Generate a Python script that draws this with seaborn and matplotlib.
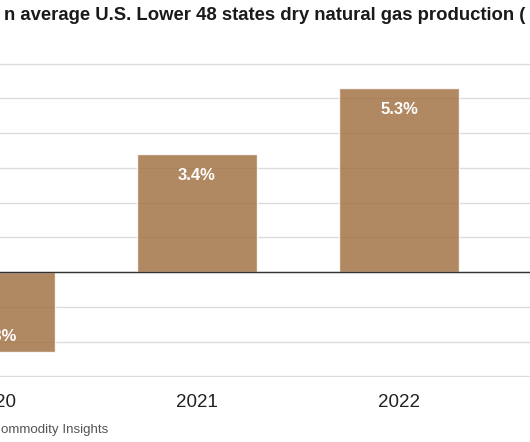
import matplotlib
matplotlib.use('Agg')
import matplotlib.pyplot as plt
import seaborn as sns
import pandas as pd

# Data
years = ['2020', '2021', '2022']
pct_change = [-2.3, 3.4, 5.3]
labels = ['-2.3%', '3.4%', '5.3%']

# visible parts of the (cropped) title and source line
title = 'n average U.S. Lower 48 states dry natural gas production ('
source = 'ommodity Insights'

sns.set_style('white')
plt.rcParams['font.family'] = ['Liberation Sans', 'DejaVu Sans']

df = pd.DataFrame({'year': years, 'pct': pct_change})

fig = plt.figure(figsize=(5.3, 4.42), dpi=100)
# plot area runs past the left edge of the picture (2020 is cut off)
ax = fig.add_axes([-0.1, 0.1471, 1.1, 0.7104])

ax.set_axisbelow(True)
ax.yaxis.grid(True, color='#dcdcdc', lw=1.0)
sns.barplot(data=df, x='year', y='pct', color='#a27346', alpha=0.85,
            width=0.594, saturation=1, ax=ax)

ax.axhline(0, color='#333333', lw=1.0, zorder=3)

for i, (v, lab) in enumerate(zip(pct_change, labels)):
    off = -22 if v > 0 else 15
    ax.annotate(lab, (i, v), xytext=(0, off), textcoords='offset pixels',
                ha='center', va='center', color='white', fontsize=12,
                fontweight='bold', zorder=4)

ax.set_ylim(-3.02, 6.02)
ax.set_yticks(range(-3, 7))
ax.set_xlim(-48 / 202, 535 / 202)
ax.set_xlabel('')
ax.set_ylabel('')
ax.tick_params(axis='y', left=False, labelleft=False)
ax.tick_params(axis='x', bottom=False, pad=8.5, labelsize=13.5, labelcolor='#222222')
sns.despine(ax=ax, left=True, bottom=True, right=True, top=True)

fig.text(0.5, 1 - 20 / 442, title, ha='center', va='baseline',
         fontsize=13.3, fontweight='bold', color='#1a1a1a')
fig.text(1 / 530, 1 - 433 / 442, source, ha='left', va='baseline',
         fontsize=9.6, color='#555555')

fig.savefig('out.png', dpi=100)
